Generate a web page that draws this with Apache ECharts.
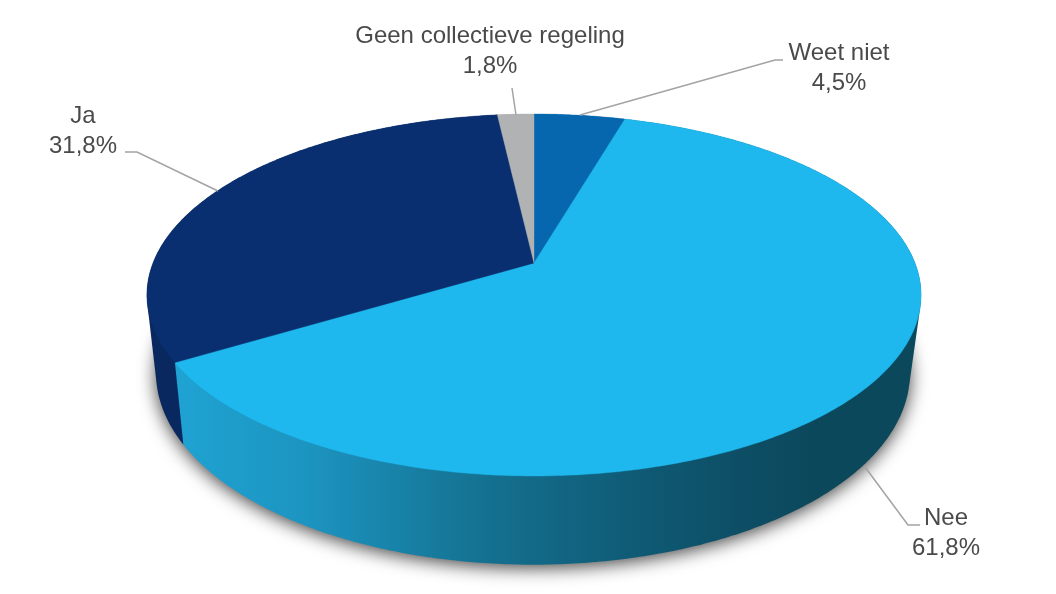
<!DOCTYPE html>
<html><head><meta charset="utf-8">
<style>html,body{margin:0;padding:0;background:#fff}#c{width:1056px;height:594px}</style>
<script src="https://cdn.jsdelivr.net/npm/echarts@6/dist/echarts.min.js"></script>
</head><body><div id="c"></div>
<script>
// ---- data ----
const categories = ['Weet niet', 'Nee', 'Ja', 'Geen collectieve regeling'];
const values = [4.5, 61.8, 31.8, 1.8];

// ---- style & layout ----
const topColors = ['#0767ae', '#1fb8ee', '#0a2f70', '#b1b2b4'];
const FONT = '24px "Liberation Sans", Arial, sans-serif';
const TEXT = '#4a4a4a', LINE = '#a3a3a3';
const topPlane = {A: 381, B: 175.3, p: 0.1768, cx: 534, cy: 263};
const basePlane = {A: 371, B: 185.8, p: 0.1768, cx: 533, cy: 339};
const labelPos = [[839, 52], [946, 517], [83, 115], [490, 35]];
const wallZ = [0, 5, 1, 0];   // the Nee wall is painted over the Ja wall
const leaders = [
  [[580, 115], [775, 60], [783, 60]],
  [[865, 467], [908, 525], [920, 525]],
  [[218, 191], [137, 152], [125, 152]],
  [[516, 115], [512, 88]]
];

const total = values.reduce((a, b) => a + b, 0);
function angles(i) {
  let s = 0;
  for (let k = 0; k < i; k++) s += values[k];
  return [s / total * 2 * Math.PI, (s + values[i]) / total * 2 * Math.PI];
}
function project(t, pl) {
  const u = Math.sin(t), v = -Math.cos(t), w = 1 - pl.p * v;
  return [pl.cx + pl.A * u / w, pl.cy + pl.B * v / w];
}
function arc(a0, a1, pl) {
  const n = Math.max(4, Math.ceil((a1 - a0) / 0.01)), pts = [];
  for (let j = 0; j <= n; j++) pts.push(project(a0 + (a1 - a0) * j / n, pl));
  return pts;
}
function hull(pts) {
  const p = pts.slice().sort((a, b) => a[0] - b[0] || a[1] - b[1]);
  const cross = (o, a, b) => (a[0] - o[0]) * (b[1] - o[1]) - (a[1] - o[1]) * (b[0] - o[0]);
  const lo = [], up = [];
  for (const q of p) { while (lo.length > 1 && cross(lo[lo.length - 2], lo[lo.length - 1], q) <= 0) lo.pop(); lo.push(q); }
  for (const q of p.reverse()) { while (up.length > 1 && cross(up[up.length - 2], up[up.length - 1], q) <= 0) up.pop(); up.push(q); }
  return lo.slice(0, -1).concat(up.slice(0, -1));
}
const grad = stops => new echarts.graphic.LinearGradient(0, 0, 1, 0, stops.map(s => ({offset: s[0], color: s[1]})));
const wallFill = [
  '#0767ae',
  grad([[0, '#1fa3d3'], [0.18, '#1c94c0'], [0.42, '#14708f'], [0.62, '#0f5a75'], [0.76, '#0d4e65'], [0.86, '#0c485c'], [1, '#0c485c']]),
  '#08285f',
  '#8f9092'
];

const chart = echarts.init(document.getElementById('c'), null, {renderer: 'canvas'});
chart.setOption({
  animation: false,
  backgroundColor: '#fff',
  series: [
    { // soft shadow under the base
      type: 'custom', coordinateSystem: 'none', silent: true, z: 1,
      data: [total],
      renderItem: () => ({
        type: 'polygon',
        shape: {points: arc(0, 2 * Math.PI, basePlane)},
        style: {fill: '#8a8a8a', shadowBlur: 18, shadowColor: 'rgba(0,0,0,0.75)', shadowOffsetY: 3}
      })
    },
    { // side walls
      type: 'custom', coordinateSystem: 'none', silent: true, z: 2,
      data: values,
      renderItem: (params) => {
        const [a0, a1] = angles(params.dataIndex);
        return {
          type: 'polygon',
          z2: wallZ[params.dataIndex],
          shape: {points: hull(arc(a0, a1, topPlane).concat(arc(a0, a1, basePlane)))},
          style: {fill: wallFill[params.dataIndex]}
        };
      }
    },
    { // top faces
      type: 'custom', coordinateSystem: 'none', silent: true, z: 3,
      data: values,
      renderItem: (params) => {
        const i = params.dataIndex, [a0, a1] = angles(i);
        const pts = [[topPlane.cx, topPlane.cy]].concat(arc(a0, a1, topPlane));
        return {
          type: 'polygon', shape: {points: pts},
          style: {fill: topColors[i], stroke: topColors[i], lineWidth: 0.4}
        };
      }
    },
    { // labels and leader lines
      type: 'custom', coordinateSystem: 'none', silent: true, z: 4,
      data: values,
      renderItem: (params, api) => {
        const i = params.dataIndex;
        const pct = api.value(0).toFixed(1).replace('.', ',') + '%';
        const [x, y] = labelPos[i];
        const txt = (s, yy) => ({
          type: 'text',
          style: {text: s, x: x, y: yy + 1, font: FONT, fill: TEXT, align: 'center', verticalAlign: 'middle'}
        });
        return {
          type: 'group',
          children: [
            {type: 'polyline', shape: {points: leaders[i]}, style: {stroke: LINE, lineWidth: 1.5, fill: 'none'}},
            txt(categories[i], y),
            txt(pct, y + 30)
          ]
        };
      }
    }
  ]
});
</script></body></html>
